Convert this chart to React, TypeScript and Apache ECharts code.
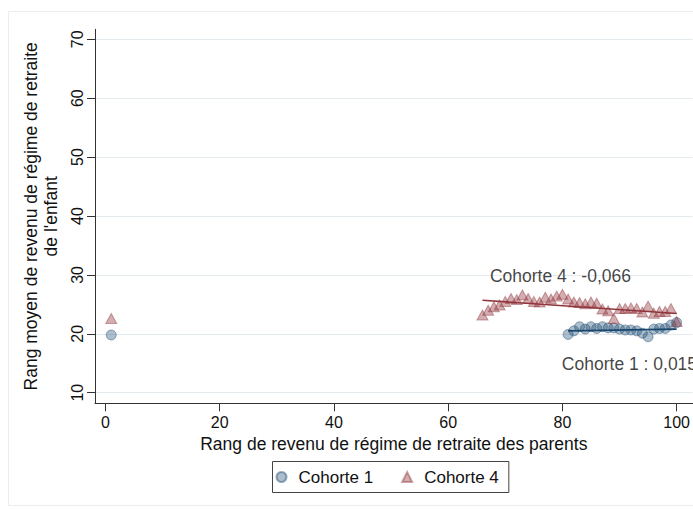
import React, { useEffect, useRef } from "react";
import * as echarts from "echarts";

const xTicks = [0, 20, 40, 60, 80, 100];
const yTicks = [10, 20, 30, 40, 50, 60, 70];

const cohort1X = [1, 81, 82, 83, 84, 85, 86, 87, 88, 89, 90, 91, 92, 93, 94, 95, 96, 97, 98, 99, 100];
const cohort1Y = [19.8, 19.9, 20.5, 21.2, 20.8, 21.2, 20.9, 21.2, 21.0, 21.0, 20.8, 20.65, 20.65, 20.5, 20.1, 19.5, 20.8, 20.9, 20.9, 21.5, 21.9];

const cohort4X = [1, 66, 67, 68, 69, 70, 71, 72, 73, 74, 75, 76, 77, 78, 79, 80, 81, 82, 83, 84, 85, 86, 87, 88, 89, 90, 91, 92, 93, 94, 95, 96, 97, 98, 99, 100];
const cohort4Y = [22.6, 23.2, 24.0, 24.6, 24.9, 25.5, 26.0, 25.8, 26.6, 26.0, 25.5, 25.4, 26.2, 25.9, 26.4, 26.7, 25.9, 25.4, 25.3, 25.1, 25.4, 25.2, 24.2, 23.9, 22.6, 24.3, 24.3, 24.4, 24.3, 23.7, 24.7, 23.5, 23.8, 23.8, 24.3, 22.1];

const fit1X = [81, 100];
const fit1Y = [20.5, 20.8];
const fit4X = [66, 100];
const fit4Y = [25.7, 23.45];

const annotationX = [67.3, 79.9];
const annotationY = [29.8, 14.9];
const annotationText = ["Cohorte 4 : -0,066", "Cohorte 1 : 0,015"];

const seriesNames = ["Cohorte 1", "Cohorte 4"];

const FONT = "'Liberation Sans', Arial, sans-serif";

export default function App() {
  const ref = useRef<HTMLDivElement>(null);
  useEffect(() => {
    if (!ref.current) return;
    const chart = echarts.init(ref.current, null, { renderer: "svg" });
    const zip = (xs: number[], ys: number[]) => xs.map((x, i) => [x, ys[i]]);
    chart.setOption({
      animation: false,
      backgroundColor: "#ffffff",
      textStyle: { fontFamily: FONT },
      graphic: [
        {
          type: "rect",
          shape: { x: 8.5, y: 11.5, width: 700, height: 494 },
          style: { fill: "none", stroke: "#ececec", lineWidth: 1 },
          silent: true,
          z: -10,
        },
      ],
      grid: { left: 95, right: 0, top: 29.3, bottom: 106.7, containLabel: false },
      xAxis: {
        type: "value",
        min: -1.84,
        max: 102.8,
        name: "Rang de revenu de régime de retraite des parents",
        nameLocation: "middle",
        nameGap: 25,
        nameTextStyle: { fontSize: 17.5, color: "#111", fontFamily: FONT },
        axisLine: { show: true, onZero: false, lineStyle: { color: "#333", width: 1 } },
        axisTick: { show: true, length: 8, customValues: xTicks, lineStyle: { color: "#333" } },
        axisLabel: { customValues: xTicks, fontSize: 16, color: "#111", margin: 11, fontFamily: FONT },
        splitLine: { show: false },
      },
      yAxis: {
        type: "value",
        min: 8.2,
        max: 71.7,
        name: "Rang moyen de revenu de régime de retraite\nde l'enfant",
        nameLocation: "middle",
        nameRotate: 90,
        nameGap: 29,
        nameTextStyle: { fontSize: 17.5, color: "#111", lineHeight: 20, fontFamily: FONT },
        axisLine: { show: true, onZero: false, lineStyle: { color: "#333", width: 1 } },
        axisTick: { show: true, length: 8, customValues: yTicks, lineStyle: { color: "#333" } },
        axisLabel: { customValues: yTicks, fontSize: 16, color: "#111", rotate: 90, margin: 10, fontFamily: FONT },
        splitLine: { show: true, lineStyle: { color: "#e3ebee", width: 1 } },
      },
      legend: {
        show: true,
        left: 272.5,
        top: 461.5,
        orient: "horizontal",
        borderColor: "#444",
        borderWidth: 1,
        borderRadius: 0,
        padding: [7, 10, 7, 3],
        itemGap: 28,
        itemWidth: 10,
        itemHeight: 10,
        textStyle: { fontSize: 17, color: "#111", padding: [0, 0, 0, 7], fontFamily: FONT },
        data: [
          { name: seriesNames[0], icon: "circle" },
          { name: seriesNames[1], icon: "triangle" },
        ],
      },
      series: [
        {
          name: seriesNames[0],
          type: "scatter",
          symbol: "circle",
          symbolSize: 10,
          data: zip(cohort1X, cohort1Y),
          itemStyle: { color: "rgba(26,71,111,0.45)", borderColor: "rgba(26,71,111,0.55)", borderWidth: 1 },
          z: 2,
        },
        {
          name: seriesNames[1],
          type: "scatter",
          symbol: "triangle",
          symbolSize: [11, 10],
          data: zip(cohort4X, cohort4Y),
          itemStyle: { color: "rgba(144,53,59,0.5)", borderColor: "rgba(144,53,59,0.55)", borderWidth: 1 },
          z: 3,
        },
        {
          name: "fit1",
          type: "line",
          data: zip(fit1X, fit1Y),
          symbol: "none",
          lineStyle: { color: "#1a476f", width: 1.6 },
          z: 4,
        },
        {
          name: "fit4",
          type: "line",
          data: zip(fit4X, fit4Y),
          symbol: "none",
          lineStyle: { color: "#90353b", width: 1.6 },
          z: 4,
        },
        {
          name: "annotations",
          type: "scatter",
          symbolSize: 0,
          data: annotationX.map((x, i) => ({ value: [x, annotationY[i]], name: annotationText[i] })),
          label: {
            show: true,
            position: "right",
            distance: 0,
            formatter: (p: any) => p.name,
            fontSize: 17.5,
            color: "#111",
            fontFamily: FONT,
          },
          itemStyle: { color: "transparent" },
          silent: true,
          z: 5,
        },
      ],
    });
    return () => chart.dispose();
  }, []);
  return (
    <div
      ref={ref}
      style={{ position: "absolute", left: 0, top: 0, width: 693, height: 510 }}
    />
  );
}
